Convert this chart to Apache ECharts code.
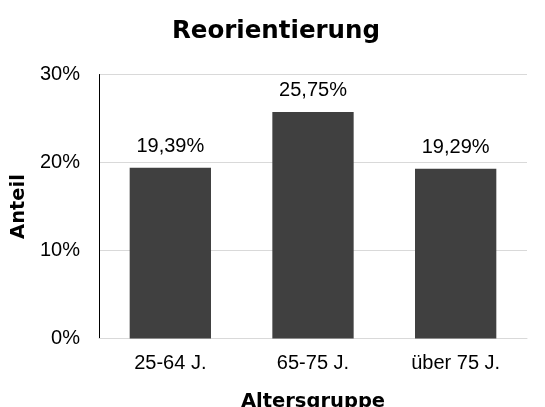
<!DOCTYPE html>
<html>
<head>
<meta charset="utf-8">
<script src="https://cdn.jsdelivr.net/npm/echarts@6/dist/echarts.min.js"></script>
<style>
html,body{margin:0;padding:0;background:#fff;overflow:hidden;}
#chart{width:545px;height:407px;}
</style>
</head>
<body>
<div id="chart"></div>
<script>
// Anteil Reorientierung je Altersgruppe
const categories = ['25-64 J.', '65-75 J.', 'über 75 J.'];
const values = [19.39, 25.75, 19.29];
const yTicks = [0, 10, 20, 30];

const fmt = v => v.toFixed(2).replace('.', ',') + '%';
const regular = 'Liberation Sans, Arial, sans-serif';
const bold = 'DejaVu Sans, Liberation Sans, sans-serif';

const chart = echarts.init(document.getElementById('chart'), null, {renderer: 'canvas', width: 545, height: 407});
chart.setOption({
  animation: false,
  title: {
    text: 'Reorientierung',
    left: 271, top: 14, textAlign: 'center',
    textStyle: {fontFamily: bold, fontSize: 24.5, fontWeight: 'bold', color: '#000'}
  },
  grid: {left: 99, top: 74.5, width: 428, height: 264, containLabel: false, outerBoundsMode: 'none'},
  xAxis: {
    type: 'category',
    data: categories,
    axisLine: {lineStyle: {color: '#d9d9d9', width: 1}},
    axisTick: {show: false},
    axisLabel: {fontFamily: regular, fontSize: 20, color: '#000', margin: 15},
    name: 'Altersgruppe',
    nameLocation: 'middle',
    nameGap: 53,
    nameTextStyle: {fontFamily: bold, fontSize: 19.5, fontWeight: 'bold', color: '#000'}
  },
  yAxis: {
    type: 'value',
    min: yTicks[0], max: yTicks[yTicks.length - 1], interval: 10,
    axisLine: {show: true, lineStyle: {color: '#000', width: 1}},
    axisTick: {show: false},
    splitLine: {lineStyle: {color: '#d9d9d9', width: 1}},
    axisLabel: {fontFamily: regular, fontSize: 20, color: '#000', margin: 19,
      formatter: v => v + '%'},
    name: 'Anteil',
    nameLocation: 'middle',
    nameGap: 67,
    nameTextStyle: {fontFamily: bold, fontSize: 19.5, fontWeight: 'bold', color: '#000'}
  },
  series: [{
    type: 'bar',
    data: values,
    barCategoryGap: '43%',
    itemStyle: {color: '#404040'},
    label: {
      show: true, position: 'top', distance: 11,
      fontFamily: regular, fontSize: 20, color: '#000',
      formatter: p => fmt(p.value)
    }
  }]
});
</script>
</body>
</html>
